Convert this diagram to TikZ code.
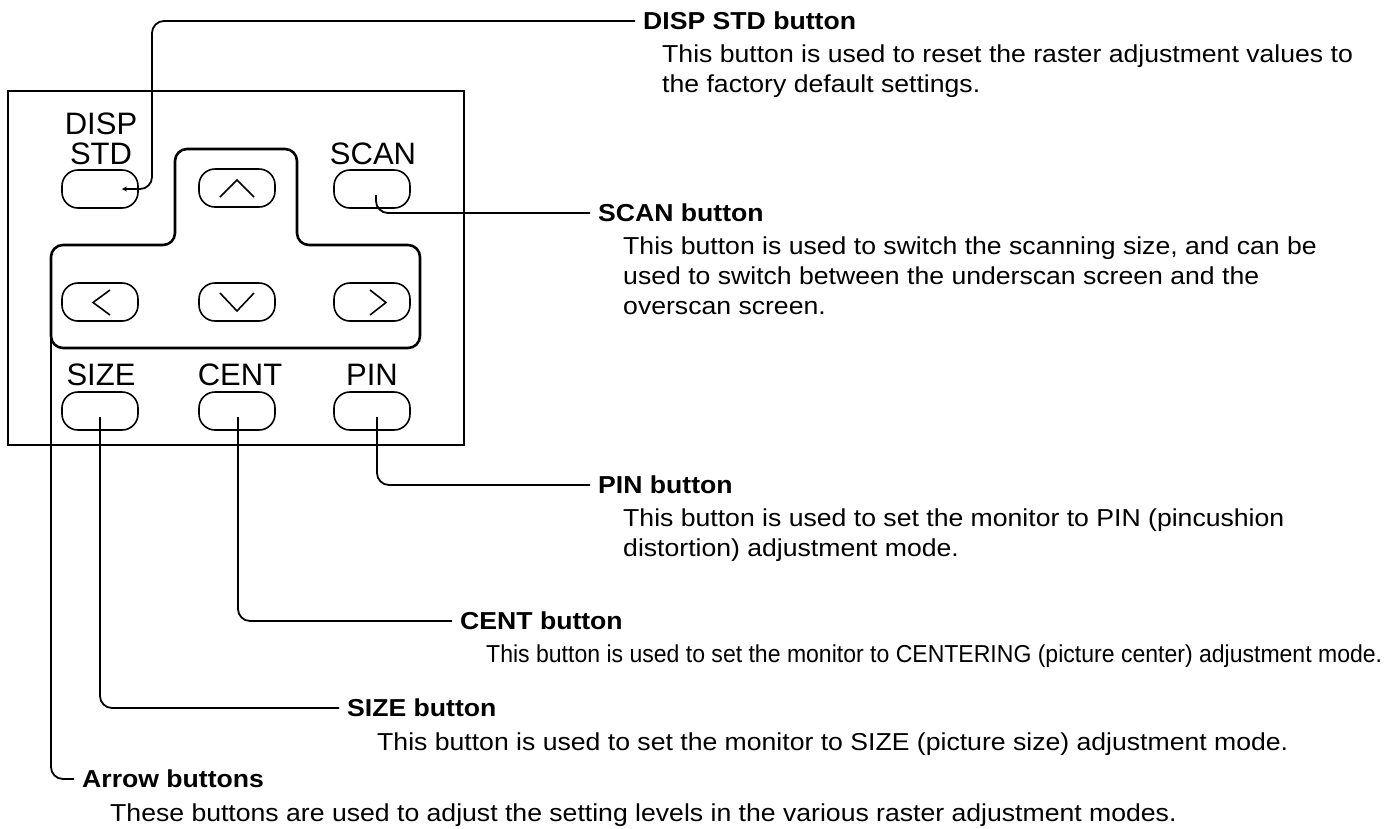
\documentclass[tikz,border=0pt]{standalone}
\usepackage{fontspec}
\setmainfont{Liberation Sans}
\newfontfamily\descf[FakeStretch=1.086]{Liberation Sans}
\newfontfamily\condf[FakeStretch=0.94]{Liberation Sans}
\usetikzlibrary{calc,arrows.meta}
\begin{document}
\begin{tikzpicture}[x=1pt,y=-1pt,
  btn/.style={draw,line width=1.6pt,rounded corners=16pt,minimum width=76pt,minimum height=38pt,inner sep=0pt},
  plabel/.style={font=\fontsize{31}{31}\selectfont,inner sep=0pt,anchor=base,text depth=0pt},
  ttl/.style={font=\descf\bfseries\fontsize{24.5}{30}\selectfont,inner xsep=8pt,inner ysep=0pt,anchor=west},
  dsc/.style={font=\descf\fontsize{24.5}{30}\selectfont,inner sep=0pt,anchor=base west},
  cdsc/.style={font=\condf\fontsize{24.5}{30}\selectfont,inner sep=0pt,anchor=base west},
  leader/.style={line width=1.8pt,rounded corners=12pt},
  chev/.style={line width=1.6pt},
  panel/.style={line width=1.3pt},
  keypad/.style={line width=2.6pt,rounded corners=12pt}]
\useasboundingbox (0,0) rectangle (1394,828);

% panel
\draw[panel] (8,91) rectangle (464,445);
\draw[keypad] (51,300) -- (51,245) -- (175,245) -- (175,149) -- (297,149) -- (297,245)
  -- (420,245) -- (420,348) -- (51,348) -- cycle;

% buttons
\node[btn] (bdisp) at (100,189) {};
\node[btn] (bup)   at (237,188) {};
\node[btn] (bscan) at (372,189) {};
\node[btn] (bleft) at (100,302) {};
\node[btn] (bdown) at (237,302) {};
\node[btn] (bright) at (372,302) {};
\node[btn] (bsize) at (100,411) {};
\node[btn] (bcent) at (237,411) {};
\node[btn] (bpin)  at (372,411) {};

% chevrons
\draw[chev] (220,197) -- (237,180) -- (254,197);
\draw[chev] (110,290) -- (93,302.5) -- (110,315);
\draw[chev] (220,293) -- (237,311) -- (254,293);
\draw[chev] (370,290) -- (386,302.5) -- (370,315);

% panel labels
\node[plabel] (ldisp) at (101,134) {DISP};
\node[plabel] (lstd)  at (101,164) {STD};
\node[plabel] (lscan) at (373,164) {SCAN};
\node[plabel] (lsize) at (101,385) {SIZE};
\node[plabel] (lcent) at (240,385) {CENT};
\node[plabel] (lpin)  at (372,385) {PIN};

% titles
\node[ttl] (tdisp)  at (635,21)  {DISP STD button};
\node[ttl] (tscan)  at (590,213) {SCAN button};
\node[ttl] (tpin)   at (590,485) {PIN button};
\node[ttl] (tcent)  at (452,621) {CENT button};
\node[ttl] (tsize)  at (339,708) {SIZE button};
\node[ttl] (tarrow) at (74,779)  {Arrow buttons};

% descriptions
\node[dsc] (d1a) at (662,62) {This button is used to reset the raster adjustment values to};
\node[dsc] (d1b) at (662,92) {the factory default settings.};
\node[dsc] (d2a) at (623,254) {This button is used to switch the scanning size, and can be};
\node[dsc] (d2b) at (623,284) {used to switch between the underscan screen and the};
\node[dsc] (d2c) at (623,314) {overscan screen.};
\node[dsc] (d3a) at (623,526) {This button is used to set the monitor to PIN (pincushion};
\node[dsc] (d3b) at (623,556) {distortion) adjustment mode.};
\node[cdsc] (d4a) at (486,662) {This button is used to set the monitor to CENTERING (picture center) adjustment mode.};
\node[dsc] (d5a) at (377,750) {This button is used to set the monitor to SIZE (picture size) adjustment mode.};
\node[dsc] (d6a) at (110,821) {These buttons are used to adjust the setting levels in the various raster adjustment modes.};

% leaders
\coordinate (kcorner) at (51,335);
\draw[leader,-{Stealth[length=5pt,width=5pt]}] (tdisp.west) -| ($(bdisp.center)+(52,0)$) -- ($(bdisp.center)+(22,0)$);
\draw[leader] (tscan.west) -| ($(bscan.center)+(4,6)$);
\draw[leader] (tpin.west) -| ($(bpin.center)+(5,6)$);
\draw[leader] (tcent.west) -| ($(bcent.center)+(1,6)$);
\draw[leader] (tsize.west) -| ($(bsize.center)+(0,6)$);
\draw[leader] (tarrow.west) -| (kcorner);
\end{tikzpicture}
\end{document}
